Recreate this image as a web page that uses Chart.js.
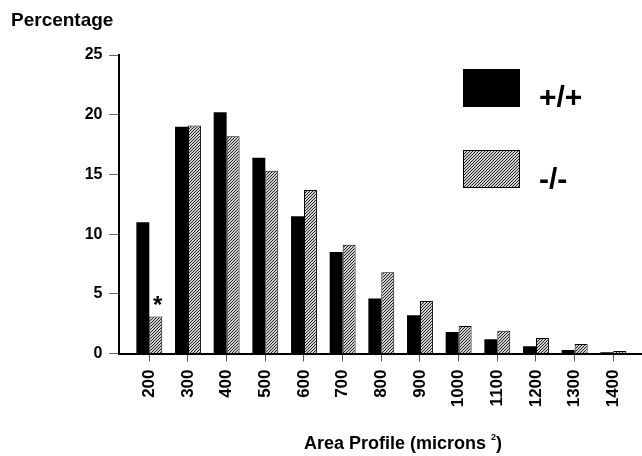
<!DOCTYPE html>
<html>
<head>
<meta charset="utf-8">
<script src="https://cdn.jsdelivr.net/npm/chart.js@4.4.1/dist/chart.umd.min.js"></script>
<style>
  html, body { margin: 0; padding: 0; background: #fff; overflow: hidden; }
  canvas { display: block; }
</style>
</head>
<body>
<canvas id="chart" width="642" height="456"></canvas>
<script>
// Area profile bins (microns²) and the share of profiles in each bin
const areaBins = [200, 300, 400, 500, 600, 700, 800, 900, 1000, 1100, 1200, 1300, 1400];
const wildTypePct = [11.0, 19.0, 20.2, 16.4, 11.5, 8.5, 4.6, 3.2, 1.8, 1.2, 0.6, 0.3, 0.1];
const knockoutPct = [3.1, 19.1, 18.2, 15.3, 13.7, 9.1, 6.8, 4.4, 2.3, 1.9, 1.3, 0.8, 0.2];
const seriesNames = ['+/+', '-/-'];
const yTickValues = [0, 5, 10, 15, 20, 25];
const yTitle = 'Percentage';
const xTitleMain = 'Area Profile (microns ';
const xTitleSup = '2';
const xTitleClose = ')';
const sigMark = '*';
const sigBinIndex = 0;

const FONT = '"Liberation Sans", Arial, Helvetica, sans-serif';
Chart.defaults.font.family = FONT;
Chart.defaults.color = '#000';

// Fine "////" hatching used for the -/- bars
function makeHatch() {
  const c = document.createElement('canvas');
  c.width = 3; c.height = 3;
  const g = c.getContext('2d');
  g.fillStyle = '#d0d0d0';
  g.fillRect(0, 0, 3, 3);
  g.fillStyle = '#222';
  for (let y = 0; y < 3; y++) g.fillRect(2 - y, y, 1, 1);
  return g.createPattern(c, 'repeat');
}
const hatch = makeHatch();

// Legend, significance marker and x-axis caption
const decorations = {
  id: 'decorations',
  afterDraw(chart) {
    const ctx = chart.ctx;
    ctx.save();
    ctx.fillStyle = '#000';

    // significance marker above the -/- bar of the first bin
    const bar = chart.getDatasetMeta(1).data[sigBinIndex];
    ctx.font = 'bold 24px ' + FONT;
    ctx.textAlign = 'center';
    ctx.textBaseline = 'alphabetic';
    ctx.fillText(sigMark, bar.x + 2, bar.y - 3.5);

    // legend
    const boxes = [{ y: 69, base: 106.5 }, { y: 150, base: 188.5 }];
    chart.data.datasets.forEach((ds, i) => {
      const b = boxes[i];
      ctx.fillStyle = ds.backgroundColor;
      ctx.fillRect(463, b.y, 57, 38);
      ctx.lineWidth = 1;
      ctx.strokeStyle = '#000';
      ctx.strokeRect(463.5, b.y + 0.5, 56, 37);
      ctx.fillStyle = '#000';
      ctx.font = 'bold 30px ' + FONT;
      ctx.textAlign = 'left';
      ctx.fillText(ds.label, 539, b.base);
    });

    // x-axis caption with superscript
    ctx.textAlign = 'left';
    const big = 'bold 18px ' + FONT, small = 'bold 9px ' + FONT;
    ctx.font = big;
    const wMain = ctx.measureText(xTitleMain).width;
    const wClose = ctx.measureText(xTitleClose).width;
    ctx.font = small;
    const wSup = ctx.measureText(xTitleSup).width;
    let x = 403 - (wMain + wSup + wClose) / 2;
    const base = 448.5;
    ctx.font = big;
    ctx.fillText(xTitleMain, x, base);
    x += wMain;
    ctx.font = small;
    ctx.fillText(xTitleSup, x, base - 9);
    x += wSup;
    ctx.font = big;
    ctx.fillText(xTitleClose, x, base);
    ctx.restore();
  }
};

new Chart(document.getElementById('chart'), {
  type: 'bar',
  data: {
    datasets: [
      {
        label: seriesNames[0],
        data: areaBins.map((b, i) => ({ x: b, y: wildTypePct[i] })),
        backgroundColor: '#000',
        borderColor: '#000',
        borderWidth: 0
      },
      {
        label: seriesNames[1],
        data: areaBins.map((b, i) => ({ x: b, y: knockoutPct[i] })),
        backgroundColor: hatch,
        borderColor: '#000',
        borderWidth: 1
      }
    ]
  },
  options: {
    responsive: false,
    animation: false,
    layout: { padding: { left: 11, right: 1, top: 0, bottom: 0 } },
    datasets: { bar: { categoryPercentage: 0.67, barPercentage: 1.0 } },
    plugins: {
      legend: { display: false },
      tooltip: { enabled: false },
      title: {
        display: true,
        text: yTitle,
        align: 'start',
        color: '#000',
        font: { size: 19, weight: 'bold', lineHeight: 1.2 },
        padding: { top: 9.5, bottom: 22.7 }
      }
    },
    scales: {
      x: {
        type: 'linear',
        offset: false,
        min: 121.6,
        max: 1471.6,
        afterBuildTicks: axis => { axis.ticks = areaBins.map(v => ({ value: v })); },
        afterFit: axis => { axis.height = 102.5; },
        grid: { offset: false, drawOnChartArea: false, drawTicks: true, tickLength: 8, color: '#555', lineWidth: 1 },
        border: { display: true, color: '#000', width: 2 },
        ticks: {
          autoSkip: false,
          minRotation: 90,
          maxRotation: 90,
          padding: 8,
          color: '#000',
          font: { size: 17, weight: 'bold' },
          callback: v => String(v)
        }
      },
      y: {
        min: 0,
        max: 25,
        afterBuildTicks: axis => { axis.ticks = yTickValues.map(v => ({ value: v })); },
        afterFit: axis => { axis.width = 108; },
        grid: { drawOnChartArea: false, drawTicks: true, tickLength: 10, color: '#666', lineWidth: 1 },
        border: { display: true, color: '#000', width: 2 },
        ticks: {
          padding: 6.5,
          color: '#000',
          font: { size: 16, weight: 'bold' },
          callback: v => String(v)
        }
      }
    }
  },
  plugins: [decorations]
});
</script>
</body>
</html>
